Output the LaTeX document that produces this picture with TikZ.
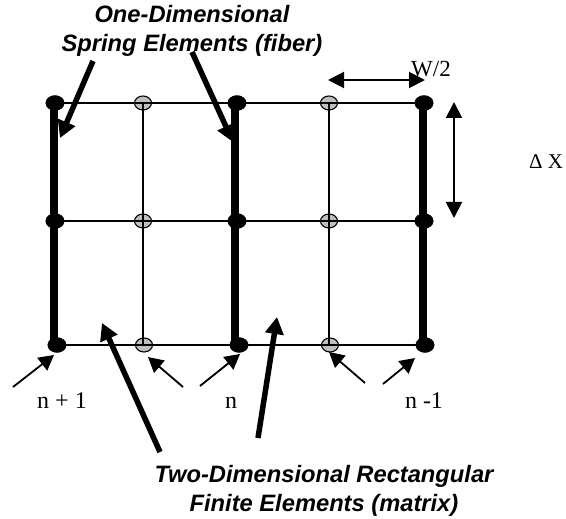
\documentclass[tikz,border=0pt]{standalone}
\usepackage{fontspec}
\setmainfont{Liberation Serif}
\newfontfamily\headfont{Liberation Sans}
\usetikzlibrary{arrows.meta,shapes.geometric}
\tikzset{
  fiberpt/.style={draw, ellipse, fill=black, inner sep=0pt, minimum width=18.5pt, minimum height=15pt},
  matrixpt/.style={draw, ellipse, fill=black!25, line width=1.1pt, inner sep=0pt, minimum width=17pt, minimum height=14pt},
  gridline/.style={line width=1.4pt},
  fiberbar/.style={line width=8pt},
  thickarrow/.style={line width=5.5pt, -{Triangle[length=17pt,width=18pt]}},
  thinarrow/.style={line width=1.8pt, -{Triangle[length=15pt,width=16pt]}},
  dimarrow/.style={line width=2pt, {Triangle[length=16pt,width=16pt]}-{Triangle[length=16pt,width=16pt]}},
  caption/.style={font=\headfont\bfseries\itshape\fontsize{23.7}{28.5}\selectfont, align=center, inner sep=0pt},
  numlabel/.style={font=\fontsize{23}{26}\selectfont, inner sep=0pt, anchor=base}
}
\begin{document}
\begin{tikzpicture}[x=1pt, y=-1pt]
    \useasboundingbox (0,0) rectangle (566,519);
    % mesh points
    \node (a1) [fiberpt] at (55,103) {};
    \node (b1) [matrixpt, right of=a1, node distance=88pt] {};
    \node (c1) [fiberpt, right of=b1, node distance=94pt] {};
    \node (d1) [matrixpt, right of=c1, node distance=92pt] {};
    \node (e1) [fiberpt, right of=d1, node distance=95pt] {};
    \node (a2) [fiberpt, below of=a1, node distance=118pt] {};
    \node (b2) [matrixpt, below of=b1, node distance=118pt] {};
    \node (c2) [fiberpt, below of=c1, node distance=118pt] {};
    \node (d2) [matrixpt, below of=d1, node distance=118pt] {};
    \node (e2) [fiberpt, below of=e1, node distance=118pt] {};
    \node (a3) [fiberpt, below of=a2, node distance=124pt, xshift=2pt] {};
    \node (b3) [matrixpt, below of=b2, node distance=124pt, xshift=1pt] {};
    \node (c3) [fiberpt, below of=c2, node distance=124pt, xshift=2pt] {};
    \node (d3) [matrixpt, below of=d2, node distance=124pt, xshift=1pt] {};
    \node (e3) [fiberpt, below of=e2, node distance=124pt, xshift=1pt] {};
    % thin lines
    \draw[gridline] (a1) -- (b1.center) -- (c1) -- (d1.center) -- (e1);
    \draw[gridline] (a2) -- (b2.center) -- (c2) -- (d2.center) -- (e2);
    \draw[gridline] (a3) -- (b3.center) -- (c3) -- (d3.center) -- (e3);
    \draw[gridline] (b1.center) -- (b1 |- b3);
    \draw[gridline] (d1.center) -- (d1 |- d3);
    % fibers
    \draw[fiberbar] ([xshift=-1pt]a1.center) -- ([xshift=-1pt]a1 |- a3);
    \draw[fiberbar] ([xshift=-2pt]c1.center) -- ([xshift=-2pt]c1 |- c3);
    \draw[fiberbar] ([xshift=-1pt]e1.center) -- ([xshift=-1pt]e1 |- e3);
    % captions and labels
    \node (top) [caption] at (192,31) {One-Dimensional\\Spring Elements (fiber)};
    \node (bot) [caption] at (324,491) {Two-Dimensional Rectangular\\Finite Elements (matrix)};
    \node (wlab) [numlabel] at (431,77) {W/2};
    \node (dxlab) [numlabel, font=\fontsize{21}{24}\selectfont] at (546,168) {Δ X};
    \node (np) [numlabel, font=\fontsize{24}{26}\selectfont] at (62,408) {n + 1};
    \node (nn) [numlabel, font=\fontsize{24}{26}\selectfont] at (231,408) {n};
    \node (nm) [numlabel, font=\fontsize{24}{26}\selectfont] at (424,408) {n -1};
    % arrow ends
    \coordinate (t1) at (93,61);
    \coordinate (t1e) at (60,138);
    \coordinate (t2) at (192,52);
    \coordinate (t2e) at (233,142);
    \coordinate (b1s) at (160,452);
    \coordinate (b1e) at (102,323);
    \coordinate (b2s) at (258,438);
    \coordinate (b2e) at (277,317);
    \coordinate (w1) at (328,80);
    \coordinate (w2) at (425,80);
    \coordinate (x1) at (454,102);
    \coordinate (x2) at (454,218);
    \coordinate (p1) at (13,387);
    \coordinate (p1e) at (54,355);
    \coordinate (p2) at (183,387);
    \coordinate (p2e) at (148,357);
    \coordinate (p3) at (200,386);
    \coordinate (p3e) at (240,354);
    \coordinate (p4) at (365,383);
    \coordinate (p4e) at (329,352);
    \coordinate (p5) at (383,384);
    \coordinate (p5e) at (415,358);
    \draw[thickarrow] (t1) -- (t1e);
    \draw[thickarrow] (t2) -- (t2e);
    \draw[thickarrow] (b1s) -- (b1e);
    \draw[thickarrow] (b2s) -- (b2e);
    \draw[dimarrow] (w1) -- (w2);
    \draw[dimarrow] (x1) -- (x2);
    \draw[thinarrow] (p1) -- (p1e);
    \draw[thinarrow] (p2) -- (p2e);
    \draw[thinarrow] (p3) -- (p3e);
    \draw[thinarrow] (p4) -- (p4e);
    \draw[thinarrow] (p5) -- (p5e);
  \end{tikzpicture}
\end{document}
